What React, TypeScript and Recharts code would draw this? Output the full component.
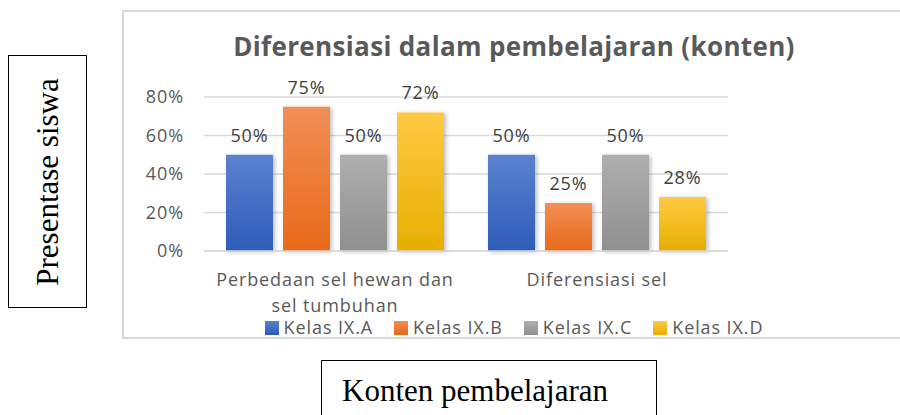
import { Bar, BarChart, CartesianGrid, LabelList, Legend, XAxis, YAxis } from 'recharts';

const categories = ['Perbedaan sel hewan dan sel tumbuhan', 'Diferensiasi sel'];
const kelasA = [0.5, 0.5];
const kelasB = [0.75, 0.25];
const kelasC = [0.5, 0.5];
const kelasD = [0.72, 0.28];
const yTicks = [0, 0.2, 0.4, 0.6, 0.8];

const series = [
  { key: 'a', name: 'Kelas IX.A', top: '#5b82cf', bottom: '#2e5cb8' },
  { key: 'b', name: 'Kelas IX.B', top: '#f28e56', bottom: '#e76a18' },
  { key: 'c', name: 'Kelas IX.C', top: '#afafaf', bottom: '#8f8f8f' },
  { key: 'd', name: 'Kelas IX.D', top: '#ffc943', bottom: '#e6af00' },
];

const data = categories.map((name, i) => ({
  name,
  a: kelasA[i],
  b: kelasB[i],
  c: kelasC[i],
  d: kelasD[i],
}));

const FONT = '"Open Sans", sans-serif';
const FS = 18;
const LS = 0.9;
const pct = (v: number) => `${Math.round(v * 100)}%`;

// simple word wrap for the category labels
const wrap = (s: string, max: number) => {
  const lines: string[] = [];
  let cur = '';
  s.split(' ').forEach((w) => {
    if (cur && (cur + ' ' + w).length > max) {
      lines.push(cur);
      cur = w;
    } else cur = cur ? cur + ' ' + w : w;
  });
  if (cur) lines.push(cur);
  return lines;
};

const CatTick = (props: any) => {
  const { x, y, payload } = props;
  const lines = wrap(payload.value, 24);
  return (
    <text x={x} y={y} textAnchor="middle" fill="#595959" fontSize={FS} fontFamily={FONT} letterSpacing={LS}>
      {lines.map((l, i) => (
        <tspan key={i} x={x} dy={i === 0 ? 27 : 26}>{l}</tspan>
      ))}
    </text>
  );
};

const LegendBox = (props: any) => (
  <div
    style={{
      display: 'flex', justifyContent: 'center', alignItems: 'center', height: 22, gap: 21,
      paddingTop: 3, boxSizing: 'border-box',
    }}
  >
    {(props.payload || []).map((p: any) => (
      <div key={p.value} style={{ display: 'flex', alignItems: 'center', gap: 5 }}>
        <svg width={14} height={14}>
          <rect width={14} height={14} fill={`url(#grad-${p.dataKey})`} />
        </svg>
        <span style={{ fontFamily: FONT, fontSize: FS, color: '#595959', letterSpacing: LS, lineHeight: '19px' }}>{p.value}</span>
      </div>
    ))}
  </div>
);

export default function App() {
  return (
    <div style={{ position: 'absolute', left: 0, top: 0, width: 900, height: 415, background: '#fff', overflow: 'hidden' }}>
      {/* y axis caption box */}
      <div style={{ position: 'absolute', left: 8, top: 55, width: 77, height: 251, border: '1.5px solid #000' }}>
        <div
          style={{
            position: 'absolute', left: '50%', top: '50%', transform: 'translate(-50%, -50%) rotate(-90deg)',
            whiteSpace: 'nowrap', fontFamily: '"Liberation Serif", serif', fontSize: 31, color: '#000',
          }}
        >
          Presentase siswa
        </div>
      </div>

      {/* x axis caption box */}
      <div style={{ position: 'absolute', left: 321, top: 360, width: 334, height: 80, border: '1.5px solid #000' }}>
        <div style={{ position: 'absolute', left: 20, top: 12, fontFamily: '"Liberation Serif", serif', fontSize: 31, color: '#000', whiteSpace: 'nowrap' }}>
          Konten pembelajaran
        </div>
      </div>

      {/* chart frame */}
      <div style={{ position: 'absolute', left: 122, top: 10, width: 800, height: 325, border: '2px solid #d9d9d9' }}>
        <div
          style={{
            position: 'absolute', left: 0, width: 780, top: 16, textAlign: 'center', fontFamily: FONT,
            fontWeight: 700, fontSize: 26, color: '#595959', whiteSpace: 'nowrap', letterSpacing: 0.35,
          }}
        >
          Diferensiasi dalam pembelajaran (konten)
        </div>
        <BarChart width={780} height={325} data={data} margin={{ top: 85, right: 176, left: 0, bottom: 0 }} barSize={47} barGap={10}>
          <defs>
            {series.map((s) => (
              <linearGradient key={s.key} id={`grad-${s.key}`} x1="0" y1="0" x2="0" y2="1">
                <stop offset="0%" stopColor={s.top} />
                <stop offset="100%" stopColor={s.bottom} />
              </linearGradient>
            ))}
            <filter id="shadow" x="-20%" y="-10%" width="150%" height="130%">
              <feDropShadow dx="2" dy="1" stdDeviation="2" floodColor="#000" floodOpacity="0.25" />
            </filter>
          </defs>
          <CartesianGrid vertical={false} stroke="#d9d9d9" strokeWidth={1.5} />
          <XAxis
            dataKey="name"
            axisLine={{ stroke: '#d9d9d9', strokeWidth: 1.5 }}
            tickLine={false}
            tick={<CatTick />}
            height={64}
            interval={0}
          />
          <YAxis
            domain={[0, 0.8]}
            ticks={yTicks}
            tickFormatter={pct}
            axisLine={false}
            tickLine={false}
            width={80}
            tickMargin={14}
            tick={{ fill: '#595959', fontSize: FS, fontFamily: FONT, letterSpacing: LS }}
          />
          <Legend verticalAlign="bottom" content={<LegendBox />} wrapperStyle={{ left: 0, width: 780 }} />
          {series.map((s) => (
            <Bar key={s.key} dataKey={s.key} name={s.name} fill={`url(#grad-${s.key})`} filter="url(#shadow)" isAnimationActive={false}>
              <LabelList
                dataKey={s.key}
                position="top"
                offset={13}
                formatter={(v: any) => pct(Number(v))}
                fill="#404040"
                fontSize={FS}
                fontFamily={FONT}
                letterSpacing={LS}
              />
            </Bar>
          ))}
        </BarChart>
      </div>
    </div>
  );
}
